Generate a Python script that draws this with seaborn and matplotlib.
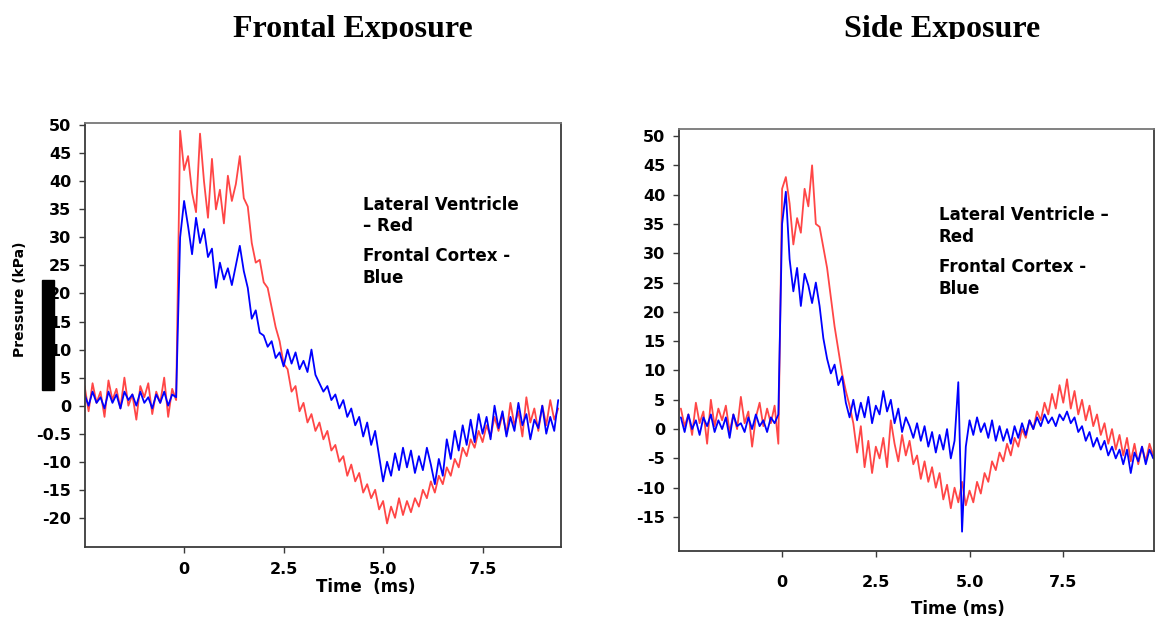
import numpy as np
import pandas as pd
import matplotlib
matplotlib.use("Agg")
import matplotlib.pyplot as plt
from matplotlib.patches import Rectangle
from matplotlib.transforms import Bbox, TransformedBbox
import seaborn as sns

# ─────────────────────────────────────────────────────────────────
# DATA (pressure traces, kPa vs ms)
# ─────────────────────────────────────────────────────────────────
frontal_time = [
    -2.5, -2.4, -2.3, -2.2, -2.1, -2.0, -1.9, -1.8, -1.7, -1.6,
    -1.5, -1.4, -1.3, -1.2, -1.1, -1.0, -0.9, -0.8, -0.7, -0.6,
    -0.5, -0.4, -0.3, -0.2, -0.1, 0.0, 0.1, 0.2, 0.3, 0.4,
    0.5, 0.6, 0.7, 0.8, 0.9, 1.0, 1.1, 1.2, 1.3, 1.4,
    1.5, 1.6, 1.7, 1.8, 1.9, 2.0, 2.1, 2.2, 2.3, 2.4,
    2.5, 2.6, 2.7, 2.8, 2.9, 3.0, 3.1, 3.2, 3.3, 3.4,
    3.5, 3.6, 3.7, 3.8, 3.9, 4.0, 4.1, 4.2, 4.3, 4.4,
    4.5, 4.6, 4.7, 4.8, 4.9, 5.0, 5.1, 5.2, 5.3, 5.4,
    5.5, 5.6, 5.7, 5.8, 5.9, 6.0, 6.1, 6.2, 6.3, 6.4,
    6.5, 6.6, 6.7, 6.8, 6.9, 7.0, 7.1, 7.2, 7.3, 7.4,
    7.5, 7.6, 7.7, 7.8, 7.9, 8.0, 8.1, 8.2, 8.3, 8.4,
    8.5, 8.6, 8.7, 8.8, 8.9, 9.0, 9.1, 9.2, 9.3, 9.4,
]
frontal_ventricle = [
    3.5, -1.0, 4.0, 0.5, 2.5, -2.0, 4.5, 1.0, 3.0, -0.5,
    5.0, 0.0, 2.0, -2.5, 3.5, 1.5, 4.0, -1.5, 2.5, 0.5,
    5.0, -2.0, 3.0, 1.0, 49.0, 42.0, 44.5, 38.0, 34.5, 48.5,
    40.0, 33.5, 44.0, 35.0, 38.5, 32.5, 41.0, 36.5, 39.5, 44.5,
    37.0, 35.5, 29.0, 25.5, 26.0, 22.0, 21.0, 17.5, 14.0, 11.5,
    7.5, 6.5, 2.5, 3.5, -1.0, 0.5, -3.0, -1.5, -4.5, -3.0,
    -6.0, -4.5, -8.0, -7.0, -10.0, -9.0, -12.5, -10.5, -13.5, -12.0,
    -15.5, -14.0, -16.5, -15.0, -18.5, -17.0, -21.0, -18.0, -20.0, -16.5,
    -19.5, -17.0, -19.0, -16.5, -18.0, -15.0, -16.5, -13.5, -15.5, -12.5,
    -14.0, -11.0, -12.5, -9.5, -11.0, -7.5, -9.0, -6.0, -7.5, -4.5,
    -6.5, -3.5, -5.5, -2.0, -4.5, -1.5, -5.0, 0.5, -3.5, -1.0,
    -5.5, 1.5, -3.0, -0.5, -4.5, 0.0, -3.5, 1.0, -2.5, -0.5,
]
frontal_cortex = [
    2.0, 0.0, 2.5, 0.5, 1.5, -0.5, 2.5, 0.5, 2.0, -0.5,
    2.5, 1.0, 2.0, 0.0, 2.5, 0.5, 1.5, -0.5, 2.0, 0.5,
    2.5, 0.0, 2.0, 1.5, 30.0, 36.5, 32.0, 27.0, 33.5, 29.0,
    31.5, 26.5, 28.0, 21.0, 25.5, 22.5, 24.5, 21.5, 25.0, 28.5,
    24.0, 21.0, 15.5, 17.0, 13.0, 12.5, 10.5, 11.5, 8.5, 9.5,
    7.0, 10.0, 7.5, 9.5, 6.5, 8.0, 6.0, 10.0, 5.5, 4.0,
    2.5, 3.5, 1.0, 2.0, -0.5, 1.0, -2.0, -0.5, -3.5, -2.0,
    -5.5, -3.0, -7.0, -4.5, -9.0, -13.5, -10.0, -12.5, -8.5, -11.5,
    -7.5, -11.0, -8.0, -12.0, -9.0, -11.5, -7.5, -10.5, -14.0, -9.5,
    -12.5, -6.0, -9.5, -4.5, -8.0, -3.5, -7.0, -2.5, -6.5, -1.5,
    -5.0, -2.0, -6.0, 0.0, -4.0, -1.0, -5.5, -2.0, -4.5, 0.5,
    -3.5, -1.5, -6.0, -2.5, -4.0, 0.0, -5.0, -2.0, -4.5, 1.0,
]

side_time = [
    -2.7, -2.6, -2.5, -2.4, -2.3, -2.2, -2.1, -2.0, -1.9, -1.8,
    -1.7, -1.6, -1.5, -1.4, -1.3, -1.2, -1.1, -1.0, -0.9, -0.8,
    -0.7, -0.6, -0.5, -0.4, -0.3, -0.2, -0.1, 0.0, 0.1, 0.2,
    0.3, 0.4, 0.5, 0.6, 0.7, 0.8, 0.9, 1.0, 1.1, 1.2,
    1.3, 1.4, 1.5, 1.6, 1.7, 1.8, 1.9, 2.0, 2.1, 2.2,
    2.3, 2.4, 2.5, 2.6, 2.7, 2.8, 2.9, 3.0, 3.1, 3.2,
    3.3, 3.4, 3.5, 3.6, 3.7, 3.8, 3.9, 4.0, 4.1, 4.2,
    4.3, 4.4, 4.5, 4.6, 4.7, 4.8, 4.9, 5.0, 5.1, 5.2,
    5.3, 5.4, 5.5, 5.6, 5.7, 5.8, 5.9, 6.0, 6.1, 6.2,
    6.3, 6.4, 6.5, 6.6, 6.7, 6.8, 6.9, 7.0, 7.1, 7.2,
    7.3, 7.4, 7.5, 7.6, 7.7, 7.8, 7.9, 8.0, 8.1, 8.2,
    8.3, 8.4, 8.5, 8.6, 8.7, 8.8, 8.9, 9.0, 9.1, 9.2,
    9.3, 9.4, 9.5, 9.6, 9.7, 9.8, 9.9,
]
side_ventricle = [
    3.5, 0.5, 2.5, -1.0, 4.5, 1.0, 3.0, -2.5, 5.0, 0.5,
    3.5, 1.5, 4.0, -0.5, 2.5, 0.0, 5.5, 1.0, 3.0, -3.0,
    2.0, 4.5, 0.5, 3.5, 1.0, 4.0, -2.5, 41.0, 43.0, 38.5,
    31.5, 36.0, 33.5, 41.0, 38.0, 45.0, 35.0, 34.5, 31.0, 27.5,
    22.5, 17.5, 13.5, 9.5, 6.5, 4.0, 1.0, -4.0, 0.5, -6.5,
    -2.0, -7.5, -3.0, -5.0, -1.5, -6.5, 1.5, -2.5, -5.5, -1.0,
    -4.5, -2.0, -6.0, -4.5, -8.5, -5.5, -9.0, -6.5, -10.0, -7.5,
    -12.0, -9.5, -13.5, -10.0, -12.5, -9.0, -13.0, -10.5, -12.5, -9.0,
    -11.0, -7.5, -9.0, -5.5, -7.0, -4.0, -5.5, -2.5, -4.5, -1.5,
    -3.0, 0.0, -1.5, 1.5, 0.0, 3.0, 1.5, 4.5, 2.5, 6.0,
    3.5, 7.5, 4.5, 8.5, 3.5, 6.5, 2.5, 5.0, 1.5, 4.0,
    0.5, 2.5, -1.0, 1.0, -2.5, 0.0, -3.5, -1.0, -4.5, -1.5,
    -5.5, -2.5, -6.0, -3.0, -5.5, -2.5, -4.5,
]
side_cortex = [
    2.0, -0.5, 2.5, 0.0, 1.5, -1.0, 2.0, 0.5, 2.5, -0.5,
    1.5, 0.0, 2.0, -1.5, 2.5, 0.5, 1.0, -0.5, 2.0, 0.0,
    2.5, 0.5, 1.5, -0.5, 2.0, 1.0, 2.5, 35.0, 40.5, 29.0,
    23.5, 27.5, 21.0, 26.5, 24.5, 21.5, 25.0, 21.0, 15.5, 12.0,
    9.5, 11.0, 7.5, 9.0, 4.5, 2.0, 5.0, 1.5, 4.5, 2.0,
    5.5, 1.0, 4.0, 2.5, 6.5, 3.0, 5.0, 1.0, 3.5, -0.5,
    2.0, 0.5, -1.5, 1.0, -2.0, 0.5, -3.0, -0.5, -4.0, -1.0,
    -3.5, 0.0, -5.0, -2.0, 8.0, -17.5, -3.0, 1.5, -1.0, 2.0,
    -0.5, 1.0, -1.5, 1.5, -2.0, 0.5, -2.0, 0.0, -2.5, 0.5,
    -1.5, 1.0, -1.0, 1.5, 0.0, 2.0, 0.5, 2.5, 1.0, 2.0,
    0.5, 2.5, 1.5, 3.0, 1.0, 2.0, -0.5, 0.5, -2.0, -0.5,
    -3.0, -1.5, -3.5, -2.0, -4.5, -3.0, -5.0, -3.5, -6.0, -3.5,
    -7.5, -4.0, -5.5, -3.0, -6.0, -3.5, -5.0,
]

frontal_yticks = [50, 45, 40, 35, 30, 25, 20, 15, 10, 5, 0, -5, -10, -15, -20]
frontal_ylabels = ["50", "45", "40", "35", "30", "25", "20", "15", "10", "5",
                   "0", "-0.5", "-10", "-15", "-20"]
side_yticks = [50, 45, 40, 35, 30, 25, 20, 15, 10, 5, 0, -5, -10, -15]
side_ylabels = ["50", "45", "40", "35", "30", "25", "20", "15", "10", "5",
                "0", "-5", "-10", "-15"]
xticks = [0, 2.5, 5.0, 7.5]
xlabels = ["0", "2.5", "5.0", "7.5"]

RED = "#ff4646"
BLUE = "#0000ff"
SPINE = "#3a3a3a"
W, H = 1160, 624

sns.set_theme(style="white")
plt.rcParams["font.family"] = ["DejaVu Sans"]
plt.rcParams["text.color"] = "black"

fig = plt.figure(figsize=(W / 100, H / 100), dpi=100)


def fx(px):
    return px / W


def fy(py):
    return 1 - py / H


def panel(rect, t, lv, fc, ylim, xlim, yticks, ylabels, xpad):
    ax = fig.add_axes(rect)
    df = pd.DataFrame({"time": t, "lv": lv, "fc": fc})
    sns.lineplot(data=df, x="time", y="lv", color=RED, lw=1.3, sort=False,
                 estimator=None, ax=ax)
    sns.lineplot(data=df, x="time", y="fc", color=BLUE, lw=1.3, sort=False,
                 estimator=None, ax=ax)
    ax.set_xlim(*xlim)
    ax.set_ylim(*ylim)
    ax.set_yticks(yticks, ylabels, fontsize=11.5, fontweight="bold")
    ax.set_xticks(xticks, xlabels, fontsize=11.5, fontweight="bold")
    ax.set_xlabel("")
    ax.set_ylabel("")
    ax.tick_params(axis="both", direction="out", length=4, width=1,
                   color=SPINE, labelcolor="black", left=True, bottom=True)
    ax.tick_params(axis="y", pad=6)
    ax.tick_params(axis="x", pad=xpad)
    for side, sp in ax.spines.items():
        sp.set_visible(True)
        sp.set_color("#777777" if side == "top" else SPINE)
        sp.set_linewidth(1.3)
    return ax


ax1 = panel([fx(85), fy(547), fx(561) - fx(85), fy(123) - fy(547)],
            frontal_time, frontal_ventricle, frontal_cortex,
            (-25.2, 50.4), (-2.49, 9.47), frontal_yticks, frontal_ylabels, 7)
ax2 = panel([fx(679), fy(551), fx(1154) - fx(679), fy(129) - fy(551)],
            side_time, side_ventricle, side_cortex,
            (-20.8, 51.2), (-2.75, 9.92), side_yticks, side_ylabels, 13)

# titles (bottom of the glyphs is cut off in the reference)
clip = TransformedBbox(Bbox([[0, fy(39)], [1, 1]]), fig.transFigure)
for txt, cx in [("Frontal Exposure", 353), ("Side Exposure", 942)]:
    t = fig.text(fx(cx), fy(37), txt, ha="center", va="baseline", color="black",
                 fontsize=23, fontweight="bold", family="Liberation Serif")
    t.set_clip_box(clip)
    t.set_clip_on(True)

# in-plot legend text
legend_style = dict(fontsize=12, fontweight="bold", va="baseline", ha="left",
                    linespacing=1.25, color="black")
fig.text(fx(363), fy(231), "Lateral Ventricle\n– Red", **legend_style)
fig.text(fx(363), fy(283), "Frontal Cortex -\nBlue", **legend_style)
fig.text(fx(939), fy(242), "Lateral Ventricle –\nRed", **legend_style)
fig.text(fx(939), fy(294), "Frontal Cortex -\nBlue", **legend_style)

# axis labels
fig.text(fx(366), fy(592), "Time  (ms)", ha="center", va="baseline",
         fontsize=12, fontweight="bold", color="black")
fig.text(fx(958), fy(614), "Time (ms)", ha="center", va="baseline",
         fontsize=12, fontweight="bold", color="black")
fig.text(fx(20), fy(299), "Pressure (kPa)", ha="center", va="center",
         rotation=90, fontsize=10, fontweight="bold", color="black")

# black bar over the y tick labels
fig.patches.append(Rectangle((fx(42), fy(390)), fx(54) - fx(42), fy(280) - fy(390),
                             transform=fig.transFigure, color="black", zorder=5))

fig.savefig("out.png", dpi=100)
